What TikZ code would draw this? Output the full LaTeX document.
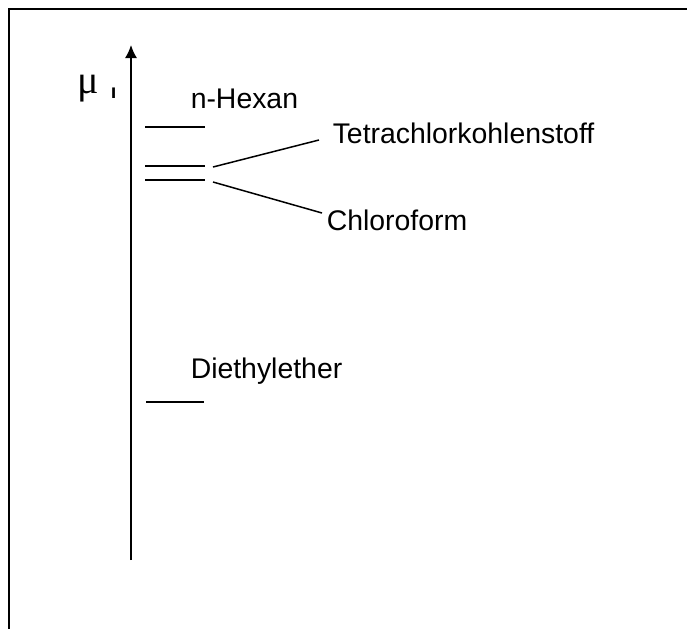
\documentclass[tikz,border=0pt]{standalone}
\usepackage{fontspec}
\setmainfont{Liberation Sans}
\newfontfamily\mufont{Liberation Serif}
\usepackage{tikz}
\usetikzlibrary{arrows.meta}

\begin{document}
\begin{tikzpicture}[x=0.5pt,y=-0.5pt,line width=0.75pt,
    every node/.style={font=\fontsize{14.2}{17}\selectfont, inner sep=0pt}]
            \useasboundingbox (0,0) rectangle (687,628);
            % frame, cut by the page at the right and at the bottom
            \draw (9,660) -- (9,9) -- (720,9);

            % axis
            \draw[-{Latex[length=6.5pt,width=6pt]}] (131,560) coordinate (axB) -- (131,45) coordinate (axT);
            \node[anchor=base west, font=\mufont\fontsize{20}{24}\selectfont] (mu) at (77,93) {μ};
            \node[anchor=base west, font=\bfseries\fontsize{10}{12}\selectfont] (idx) at (110,98) {ı};

            % levels
            \draw (145,127) coordinate (hexL) -- (205,127) coordinate (hexR);
            \draw (145,166) coordinate (tetL) -- (205,166) coordinate (tetR);
            \draw (145,180) coordinate (chlL) -- (205,180) coordinate (chlR);
            \draw (146,402) coordinate (ethL) -- (204,402) coordinate (ethR);

            % labels
            \node[anchor=base west] (hexan) at (190,108) {n-Hexan};
            \node[anchor=base west] (tetra) at (332,143) {Tetrachlorkohlenstoff};
            \node[anchor=base west] (chloro) at (326,230) {Chloroform};
            \node[anchor=base west] (ether) at (190,378) {Diethylether};

            \draw ([shift={(8,1)}]tetR) -- ([shift={(-13,-3)}]tetra.base west);
            \draw ([shift={(8,2)}]chlR) -- ([shift={(-4,-17)}]chloro.base west);
        \end{tikzpicture}
\end{document}
